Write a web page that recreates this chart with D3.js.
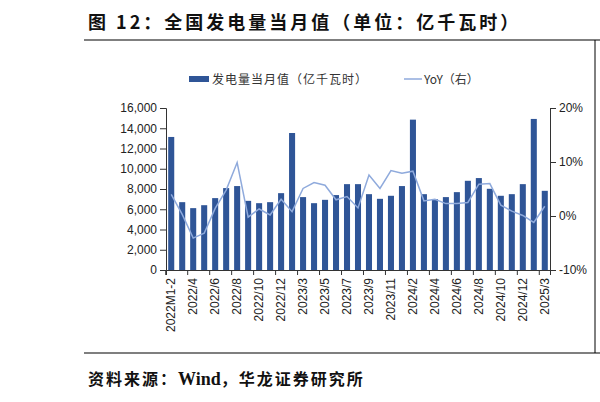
<!DOCTYPE html>
<html>
<head>
<meta charset="utf-8">
<script src="https://cdn.jsdelivr.net/npm/d3@7"></script>
<style>
  body { margin: 0; background: #fff; }
  svg { display: block; }
</style>
</head>
<body>
<div id="chart"></div>
<script>
// Data
let months = ["2022M1-2", "2022/3", "2022/4", "2022/5", "2022/6", "2022/7", "2022/8", "2022/9", "2022/10", "2022/11", "2022/12",
    "2023M1-2", "2023/3", "2023/4", "2023/5", "2023/6", "2023/7", "2023/8", "2023/9", "2023/10", "2023/11", "2023/12",
    "2024/2", "2024/3", "2024/4", "2024/5", "2024/6", "2024/7", "2024/8", "2024/9", "2024/10", "2024/11", "2024/12",
    "2025M1-2", "2025/3"];
let output = [13140, 6700, 6110, 6400, 7100, 8090, 8290, 6830, 6600, 6700, 7590,
    13530, 7200, 6600, 6930, 7400, 8480, 8480, 7490, 7030, 7330, 8290,
    14850, 7490, 7000, 7200, 7690, 8810, 9080, 8020, 7330, 7490, 8480,
    14920, 7820];
let yoy = [4.0, 0.3, -4.1, -3.2, 1.4, 4.8, 9.9, -0.2, 1.3, 0.2, 3.1,
    0.8, 5.1, 6.2, 5.7, 3.0, 3.6, 1.5, 7.6, 5.1, 8.4, 7.9,
    8.3, 2.8, 3.1, 2.3, 2.3, 2.5, 5.9, 6.0, 2.0, 0.9, 0.1,
    -1.2, 1.8];
let leftTicks = [0, 2000, 4000, 6000, 8000, 10000, 12000, 14000, 16000];
let rightTicks = [-10, 0, 10, 20];

let width = 600, height = 402;
let svg = d3.select("#chart").append("svg")
    .attr("width", width)
    .attr("height", height);

let margin = { top: 108, left: 166, bottom: 132, right: 50 };
let plotW = width - margin.left - margin.right;
let plotH = height - margin.top - margin.bottom;

// Frame: title, rules, source
svg.append("text")
    .attr("x", 88).attr("y", 29)
    .attr("font-family", "'Noto Sans CJK SC'")
    .attr("font-weight", "bold")
    .attr("font-size", 18)
    .attr("letter-spacing", 3)
    .attr("fill", "#111")
    .text("图 12：全国发电量当月值（单位：亿千瓦时）");
svg.append("line").attr("x1", 84).attr("x2", 600).attr("y1", 40).attr("y2", 40)
    .attr("stroke", "#000").attr("stroke-width", 1.2);
svg.append("line").attr("x1", 84).attr("x2", 600).attr("y1", 353).attr("y2", 353)
    .attr("stroke", "#000").attr("stroke-width", 1.2);
svg.append("line").attr("x1", 595).attr("x2", 595).attr("y1", 40).attr("y2", 353)
    .attr("stroke", "#000").attr("stroke-width", 1);
let src = svg.append("text")
    .attr("x", 88).attr("y", 385)
    .attr("font-family", "'Noto Sans CJK SC'")
    .attr("font-weight", "bold")
    .attr("font-size", 16)
    .attr("letter-spacing", 2)
    .attr("fill", "#111");
src.append("tspan").text("资料来源：");
src.append("tspan").attr("font-family", "'Liberation Serif'").attr("font-size", 18).attr("letter-spacing", 0).text("Wind");
src.append("tspan").text("，华龙证券研究所");

// Legend
let legend = svg.append("g").attr("font-family", "'Noto Sans CJK SC'").attr("font-size", 12).attr("fill", "#333");
legend.append("rect").attr("x", 189).attr("y", 76).attr("width", 20).attr("height", 6).attr("fill", "#2f5597");
legend.append("text").attr("x", 212).attr("y", 84).attr("letter-spacing", 1).text("发电量当月值（亿千瓦时）");
legend.append("line").attr("x1", 404).attr("x2", 422).attr("y1", 79).attr("y2", 79)
    .attr("stroke", "#8faadc").attr("stroke-width", 1.5);
legend.append("text").attr("x", 424).attr("y", 84).text("YoY（右）");

let g = svg.append("g").attr("transform", `translate(${margin.left}, ${margin.top})`);

// Scales
let xScale = d3.scaleBand().domain(months).range([0, plotW]).paddingInner(0.45).paddingOuter(0.2);
let yScale = d3.scaleLinear().domain([0, 16000]).range([plotH, 0]);
let y2Scale = d3.scaleLinear().domain([-10, 20]).range([plotH, 0]);

// Axes
let yAxis = d3.axisLeft(yScale).tickValues(leftTicks).tickSize(6).tickFormat(d3.format(","));
let y2Axis = d3.axisRight(y2Scale).tickValues(rightTicks).tickSize(6).tickFormat(d => d + "%");
let xAxis = d3.axisBottom(xScale)
    .tickValues(months.filter((d, i) => i % 2 === 0))
    .tickSize(5)
    .tickFormat(d => d);

function styleAxis(sel) {
    sel.selectAll("path, line").attr("stroke", "#333");
    sel.selectAll("text").attr("fill", "#222").attr("font-family", "'Liberation Sans'").attr("font-size", 12);
}

g.append("g").call(yAxis).call(styleAxis);
g.append("g").attr("transform", `translate(${plotW}, 0)`).call(y2Axis).call(styleAxis);
let xg = g.append("g").attr("transform", `translate(0, ${plotH})`).call(xAxis).call(styleAxis);
xg.selectAll(".tick line").attr("transform", `translate(${-xScale.step() / 2}, 0)`);
xg.selectAll("text")
    .attr("transform", "rotate(-90)")
    .attr("text-anchor", "end")
    .attr("x", -8)
    .attr("y", 0)
    .attr("dy", "0.35em")
    .attr("font-size", 12);

// Bars
g.selectAll(".bar")
    .data(output)
    .enter()
    .append("rect")
    .attr("class", "bar")
    .attr("x", (d, i) => xScale(months[i]))
    .attr("y", d => yScale(d))
    .attr("width", xScale.bandwidth())
    .attr("height", d => plotH - yScale(d))
    .attr("fill", "#2f5597");

// YoY line
let line = d3.line()
    .x((d, i) => xScale(months[i]) + xScale.bandwidth() / 2)
    .y(d => y2Scale(d));
g.append("path")
    .datum(yoy)
    .attr("d", line)
    .attr("fill", "none")
    .attr("stroke", "#8faadc")
    .attr("stroke-width", 1.5);
</script>
</body>
</html>
